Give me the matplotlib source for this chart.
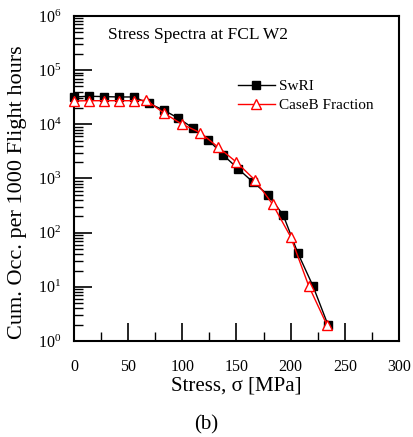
import matplotlib
matplotlib.use("Agg")
import matplotlib.pyplot as plt
from matplotlib.ticker import LogLocator, MultipleLocator, NullFormatter

plt.rcParams['font.family'] = ['Liberation Serif', 'DejaVu Serif']
plt.rcParams['mathtext.fontset'] = 'custom'
plt.rcParams['mathtext.rm'] = 'Liberation Serif'
plt.rcParams['mathtext.it'] = 'Liberation Serif:italic'

# SwRI series
swri_stress = [0.0, 13.8, 27.6, 41.4, 55.2, 69.0, 82.7, 96.5, 110.3, 124.1,
               137.9, 151.7, 165.5, 179.3, 193.1, 206.8, 220.6, 234.4]
swri_occ = [32000, 33000, 32500, 32000, 32000, 24400, 18400, 12900, 8450, 5150,
            2700, 1500, 850, 495, 212, 41.5, 10.4, 2.0]

# CaseB Fraction series
caseb_stress = [0.0, 13.8, 27.6, 41.4, 55.2, 66.7, 83.3, 100.0, 116.7, 133.3,
                150.0, 166.7, 183.3, 200.0, 216.7, 233.4]
caseb_occ = [27000, 27300, 27300, 27300, 27300, 28000, 16000, 10000, 7000, 3760,
             2000, 950, 337, 84, 10.4, 2.0]

fig = plt.figure(figsize=(4.13, 4.37), dpi=100)
ax = fig.add_axes([0.179, 0.2197, 0.787, 0.7437])

ax.plot(swri_stress, swri_occ, color='black', lw=1.0, marker='s', ms=5.5,
        mfc='black', mec='black', label='SwRI', clip_on=False, zorder=3)
ax.plot(caseb_stress, caseb_occ, color='red', lw=1.0, marker='^', ms=6.5,
        mfc='white', mec='red', mew=1.0, label='CaseB Fraction', clip_on=False, zorder=4)

ax.set_yscale('log')
ax.set_xlim(0, 300)
ax.set_ylim(1, 1e6)
ax.xaxis.set_major_locator(MultipleLocator(50))
ax.xaxis.set_minor_locator(MultipleLocator(25))
ax.yaxis.set_major_locator(LogLocator(base=10, numticks=10))
ax.yaxis.set_minor_locator(LogLocator(base=10, subs=range(2, 10), numticks=100))
ax.yaxis.set_minor_formatter(NullFormatter())

ax.tick_params(which='major', direction='in', length=13, width=1.2, labelsize=11.5,
               top=False, right=False)
ax.tick_params(which='minor', direction='in', length=6.5, width=1.0, top=False, right=False)
ax.tick_params(axis='x', which='major', pad=13)
ax.tick_params(axis='y', which='major', pad=9)
for s in ax.spines.values():
    s.set_linewidth(1.5)

ax.text(0.105, 0.94, 'Stress Spectra at FCL W2', transform=ax.transAxes,
        fontsize=12.5, ha='left', va='center')

ax.legend(loc='upper left', bbox_to_anchor=(0.505, 0.805), frameon=False,
          fontsize=11, handlelength=2.4, handletextpad=0.3, labelspacing=0.35,
          borderaxespad=0, borderpad=0)

ax.set_xlabel('Stress, σ [MPa]', fontsize=15, labelpad=0)
ax.xaxis.set_label_coords(0.5, -0.108)
fig.text(0.042, 1 - 192 / 437, 'Cum. Occ. per 1000 Flight hours', rotation=90,
         fontsize=16, ha='center', va='center')
fig.text(0.5, 1 - 425 / 437, '(b)', fontsize=15, ha='center', va='center')

fig.savefig('out.png', dpi=100)
